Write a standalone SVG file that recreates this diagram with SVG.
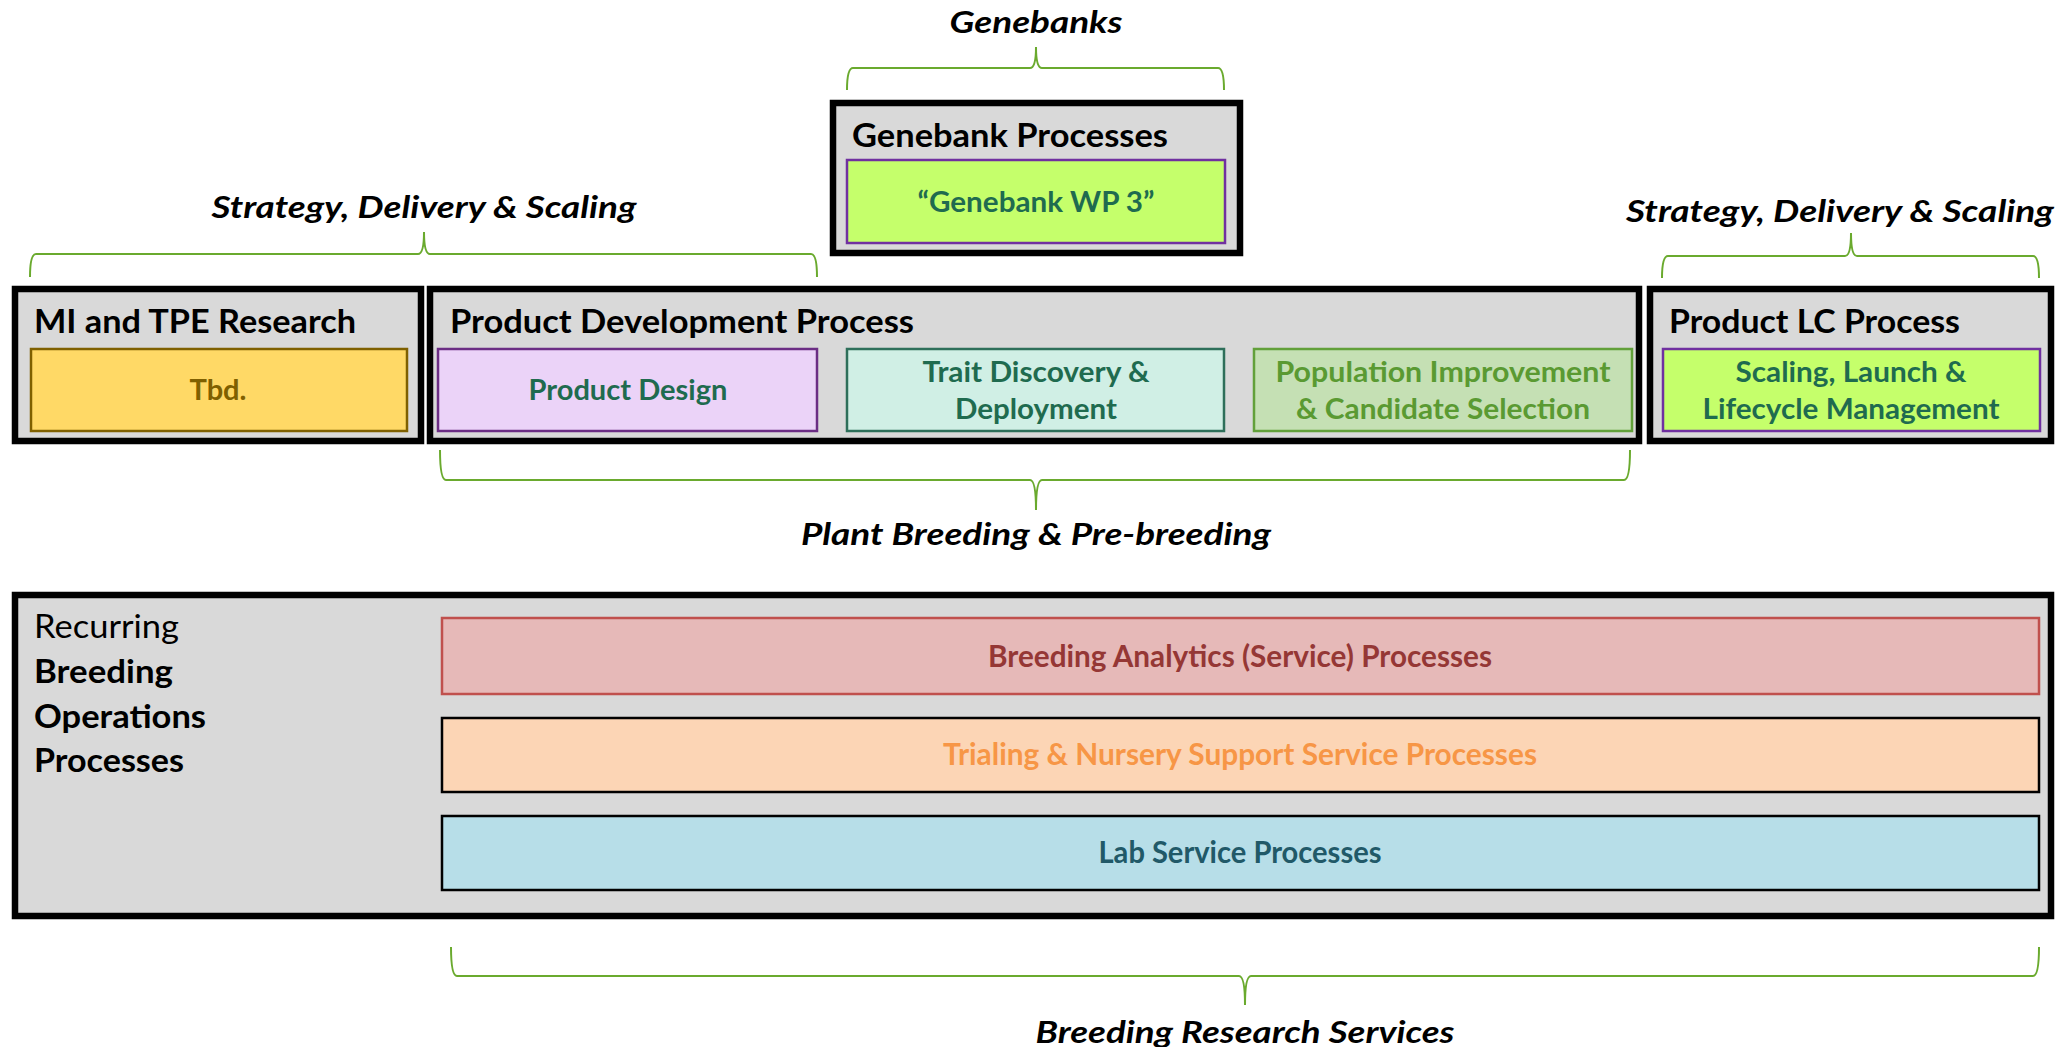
<svg xmlns="http://www.w3.org/2000/svg" width="2066" height="1047" viewBox="0 0 2066 1047">
<style>
text{font-family:Lato,"Open Sans","Liberation Sans",sans-serif;}
.outer{fill:#d9d9d9;stroke:#000;stroke-width:6.5;}
.inner{stroke-width:2.5;}
.head{font-size:33px;font-weight:700;fill:#000;}
.lbl{font-size:29px;font-weight:700;text-anchor:middle;}
.cap{font-size:31px;font-weight:700;font-style:italic;fill:#000;text-anchor:middle;}
.svc{font-size:29.5px;font-weight:700;text-anchor:middle;}
.brace{fill:none;stroke:#6aaa2e;stroke-width:2;}
.side{font-size:33px;fill:#000;}
</style>
<rect width="2066" height="1047" fill="#fff"/>

<g id="connectors">
<path class="brace" d="M847 90 Q847 68 853 68 L1030 68 Q1036 68 1036 47 Q1036 68 1042 68 L1218 68 Q1224 68 1224 90"/>
<path class="brace" d="M30 277 Q30 254 36 254 L418 254 Q424 254 424 232 Q424 254 430 254 L811 254 Q817 254 817 277"/>
<path class="brace" d="M1662 278 Q1662 256 1668 256 L1845 256 Q1851 256 1851 233 Q1851 256 1857 256 L2033 256 Q2039 256 2039 278"/>
<path class="brace" d="M440 450 Q440 480 446 480 L1030 480 Q1036 480 1036 510 Q1036 480 1042 480 L1624 480 Q1630 480 1630 450"/>
<path class="brace" d="M451 947 Q451 976 457 976 L1239 976 Q1245 976 1245 1005 Q1245 976 1251 976 L2033 976 Q2039 976 2039 947"/>
</g>

<g id="label-genebanks"><text class="cap" x="1036" y="33" textLength="173" lengthAdjust="spacingAndGlyphs">Genebanks</text></g>
<g id="label-strategy-left"><text class="cap" x="424" y="218" textLength="425" lengthAdjust="spacingAndGlyphs">Strategy, Delivery &amp; Scaling</text></g>
<g id="label-strategy-right"><text class="cap" x="1840" y="222" textLength="428" lengthAdjust="spacingAndGlyphs">Strategy, Delivery &amp; Scaling</text></g>
<g id="label-plant-breeding"><text class="cap" x="1036" y="545" textLength="470" lengthAdjust="spacingAndGlyphs">Plant Breeding &amp; Pre-breeding</text></g>
<g id="label-breeding-research"><text class="cap" x="1245" y="1043" textLength="419" lengthAdjust="spacingAndGlyphs">Breeding Research Services</text></g>

<g id="genebank-processes">
<rect class="outer" x="833" y="103" width="407" height="150"/>
<text class="head" x="852" y="147" textLength="316" lengthAdjust="spacingAndGlyphs">Genebank Processes</text>
<rect class="inner" x="847" y="160" width="378" height="83" fill="#c5ff6b" stroke="#7030a0"/>
<text class="lbl" x="1036" y="212" fill="#1f6b4f" textLength="237" lengthAdjust="spacingAndGlyphs">“Genebank WP 3”</text>
</g>

<g id="mi-tpe">
<rect class="outer" x="15" y="289" width="406" height="152"/>
<text class="head" x="34" y="333" textLength="322" lengthAdjust="spacingAndGlyphs">MI and TPE Research</text>
<rect class="inner" x="31" y="349" width="376" height="82" fill="#ffd966" stroke="#7f6000"/>
<text class="lbl" x="218" y="400" fill="#7f6000" textLength="57" lengthAdjust="spacingAndGlyphs">Tbd.</text>
</g>

<g id="product-development">
<rect class="outer" x="430" y="289" width="1209" height="152"/>
<text class="head" x="450" y="333" textLength="464" lengthAdjust="spacingAndGlyphs">Product Development Process</text>
</g>
<g id="product-design">
<rect class="inner" x="438" y="349" width="379" height="82" fill="#ebd3f8" stroke="#6b2d84"/>
<text class="lbl" x="628" y="400" fill="#1f6b4f" textLength="199" lengthAdjust="spacingAndGlyphs">Product Design</text>
</g>
<g id="trait-discovery">
<rect class="inner" x="847" y="349" width="377" height="82" fill="#d0efe5" stroke="#2e6f5a"/>
<text class="lbl" x="1036" y="382" fill="#1f6b4f" textLength="227" lengthAdjust="spacingAndGlyphs">Trait Discovery &amp;</text>
<text class="lbl" x="1036" y="419" fill="#1f6b4f" textLength="162" lengthAdjust="spacingAndGlyphs">Deployment</text>
</g>
<g id="population-improvement">
<rect class="inner" x="1254" y="349" width="378" height="82" fill="#c5e0b4" stroke="#62a03a"/>
<text class="lbl" x="1443" y="382" fill="#5a9a32" textLength="335" lengthAdjust="spacingAndGlyphs">Population Improvement</text>
<text class="lbl" x="1443" y="419" fill="#5a9a32" textLength="294" lengthAdjust="spacingAndGlyphs">&amp; Candidate Selection</text>
</g>

<g id="product-lc">
<rect class="outer" x="1650" y="289" width="401" height="152"/>
<text class="head" x="1669" y="333" textLength="291" lengthAdjust="spacingAndGlyphs">Product LC Process</text>
<rect class="inner" x="1663" y="349" width="377" height="82" fill="#c5ff6b" stroke="#7030a0"/>
<text class="lbl" x="1851" y="382" fill="#1f6b4f" textLength="231" lengthAdjust="spacingAndGlyphs">Scaling, Launch &amp;</text>
<text class="lbl" x="1851" y="419" fill="#1f6b4f" textLength="297" lengthAdjust="spacingAndGlyphs">Lifecycle Management</text>
</g>

<g id="breeding-operations">
<rect class="outer" x="15" y="595" width="2036" height="321"/>
<text class="side" x="34" y="638" textLength="145" lengthAdjust="spacingAndGlyphs">Recurring</text>
<text class="side" x="34" y="683" font-weight="700" textLength="139" lengthAdjust="spacingAndGlyphs">Breeding</text>
<text class="side" x="34" y="728" font-weight="700" textLength="172" lengthAdjust="spacingAndGlyphs">Operations</text>
<text class="side" x="34" y="772" font-weight="700" textLength="150" lengthAdjust="spacingAndGlyphs">Processes</text>
</g>
<g id="breeding-analytics">
<rect class="inner" x="442" y="618" width="1597" height="76" fill="#e6b9b8" stroke="#c0504d"/>
<text class="svc" x="1240" y="667" fill="#953735" textLength="504" lengthAdjust="spacingAndGlyphs">Breeding Analytics (Service) Processes</text>
</g>
<g id="trialing-nursery">
<rect class="inner" x="442" y="718" width="1597" height="74" fill="#fcd5b5" stroke="#000"/>
<text class="svc" x="1240" y="765" fill="#f79646" textLength="594" lengthAdjust="spacingAndGlyphs">Trialing &amp; Nursery Support Service Processes</text>
</g>
<g id="lab-service">
<rect class="inner" x="442" y="816" width="1597" height="74" fill="#b7dee8" stroke="#000"/>
<text class="svc" x="1240" y="863" fill="#215968" textLength="283" lengthAdjust="spacingAndGlyphs">Lab Service Processes</text>
</g>
</svg>
